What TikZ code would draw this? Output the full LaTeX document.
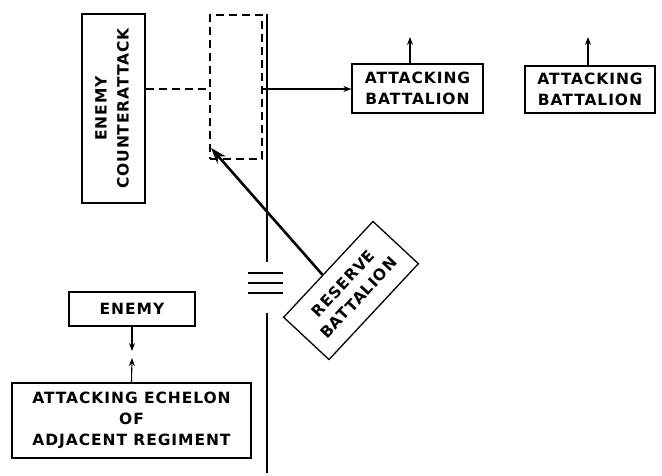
\documentclass[tikz,border=0pt]{standalone}
\usepackage{fontspec}
\usetikzlibrary{arrows.meta,calc}
\newfontfamily\lab[LetterSpace=6,BoldFont={DejaVu Sans Bold}]{DejaVu Sans}
\begin{document}
\begin{tikzpicture}[x=1pt,y=-1pt,
  lbl/.style={font=\lab\bfseries\fontsize{15.5}{21}\selectfont,align=center},
  box/.style={lbl,draw,line width=1.3pt,inner sep=0pt},
  thin/.style={line width=1.1pt,-{Stealth[length=8pt,width=6pt]}},
  line/.style={line width=1.5pt}]
\useasboundingbox (0,0) rectangle (662,476);
% boxes
\node[box,minimum width=63pt,minimum height=189pt] (eca) at (113.5,108.5)
  {\rotatebox{90}{\begin{tabular}{@{}c@{}}ENEMY\\[1pt]COUNTERATTACK\end{tabular}}};
\node[draw,dashed,dash pattern=on 8pt off 5pt,line width=1.3pt,minimum width=52pt,minimum height=144pt,inner sep=0pt] (dr) at (236,87) {};
\node[box,minimum width=131pt,minimum height=49pt] (ab1) at (417.5,88.5) {ATTACKING\\BATTALION};
\node[box,minimum width=130pt,minimum height=47pt] (ab2) at (590,89.5) {ATTACKING\\BATTALION};
\node[box,minimum width=126pt,minimum height=34pt] (en) at (132,309) {ENEMY};
\node[box,minimum width=239pt,minimum height=75pt] (ae) at (131.5,420.5) {ATTACKING ECHELON\\OF\\ADJACENT REGIMENT};
\node[box,rotate=47,minimum width=131pt,minimum height=62pt] (rb) at (351,290.5) {RESERVE\\BATTALION};
% coordinates
\coordinate (dl) at (180,89);
\coordinate (vt) at (267,14);
\coordinate (vg1) at (267,262);
\coordinate (vg2) at (267,313);
\coordinate (vb) at (267,473);
\coordinate (ab1t) at (410,37);
\coordinate (ab2t) at (588,37);
\coordinate (ent) at (132,351);
\coordinate (aet) at (132,358);
\coordinate (rbe) at (211,148);
\coordinate (h1a) at (248,273); \coordinate (h1b) at (283,273);
\coordinate (h2a) at (248,283); \coordinate (h2b) at (283,283);
\coordinate (h3a) at (248,293); \coordinate (h3b) at (283,293);
% lines
\draw[line] (vt) -- (vg1);
\draw[line] (vg2) -- (vb);
\draw[line] (h1a) -- (h1b);
\draw[line] (h2a) -- (h2b);
\draw[line] (h3a) -- (h3b);
\draw[dashed,dash pattern=on 8pt off 5pt,line width=1.3pt] (eca.east |- dl) -- (dr.west |- dl);
\draw[thin] (dr.east |- dl) -- (ab1.west |- dl);
\draw[thin] ([xshift=-7.5pt]ab1.north) -- (ab1t);
\draw[thin] (ab2.north -| ab2t) -- (ab2t);
\draw[thin] (en.south) -- (ent);
\draw[thin] (ae.north) -- (aet);
\draw[line width=2.6pt,-{Stealth[length=16pt,width=11pt]}] ($(rb.north west)!0.44!(rb.north east)$) -- (rbe);
\end{tikzpicture}
\end{document}
